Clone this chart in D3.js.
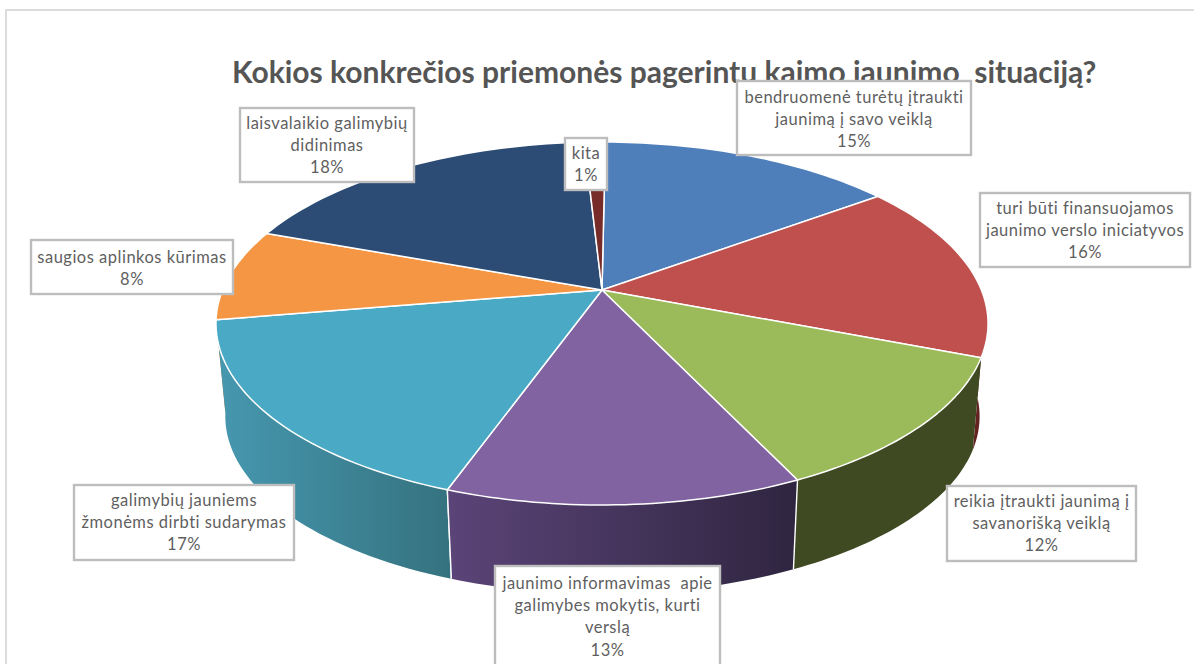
<!DOCTYPE html>
<html><head><meta charset="utf-8">
<script src="https://cdnjs.cloudflare.com/ajax/libs/d3/7.8.5/d3.min.js"></script>
<style>html,body{margin:0;padding:0;background:#fff;overflow:hidden}svg{display:block}text{font-family:Lato,"Open Sans",sans-serif;white-space:pre}</style>
</head><body>
<script>
const chartTitle = "Kokios konkrečios priemonės pagerintų kaimo jaunimo  situaciją?";
const categories = ["bendruomenė turėtų įtraukti jaunimą į savo veiklą","turi būti finansuojamos jaunimo verslo iniciatyvos","reikia įtraukti jaunimą į savanorišką veiklą","jaunimo informavimas apie galimybes mokytis, kurti verslą","galimybių jauniems žmonėms dirbti sudarymas","saugios aplinkos kūrimas","laisvalaikio galimybių didinimas","kita"];
const shares = [14.75,15.95,12.07,12.53,16.9,8.2,18.55,1.05];
const percentLabels = ["15%","16%","12%","13%","17%","8%","18%","1%"];
const labelLines = [
 ["bendruomenė turėtų įtraukti","jaunimą į savo veiklą"],
 ["turi būti finansuojamos","jaunimo verslo iniciatyvos"],
 ["reikia įtraukti jaunimą į","savanorišką veiklą"],
 ["jaunimo informavimas  apie","galimybes mokytis, kurti","verslą"],
 ["galimybių jauniems","žmonėms dirbti sudarymas"],
 ["saugios aplinkos kūrimas"],
 ["laisvalaikio galimybių","didinimas"],
 ["kita"]];
const topColors = ["#4f7fba","#bf504d","#9bba59","#8063a0","#4aa9c4","#f59645","#2c4c75","#772c2a"];

// layout (not data)
const W=1194,H=664;
const labelBoxes=[[736,80,236,76,97],[979,192,212,76,208],[946,485,191,77,501],[494,565,227,110,583],[73,484,222,77,500],[30,239,204,56,257],[239,107,176,76,123],[564,137,44,54,153]];
const lineStep=22.3;
const wallFill=[null,["#622220","#622220"],["#3f4a23","#3f4a23"],["#5b4478","#2f2540"],["#4698b0","#35727f"],["#b5702f","#b5702f"],null,null];

const svg=d3.select("body").append("svg").attr("width",W).attr("height",H);
svg.append("path").attr("d",`M1194,10H6V664`).attr("fill","none").attr("stroke","#dcdcdc").attr("stroke-width",2);
svg.append("text").attr("x",232).attr("y",83).attr("font-size",30).attr("font-weight",700).attr("fill","#555").text(chartTitle);

// perspective projection of the unit disc
const cx=602,cy=290,k=0.1846,Rx=379.4,Ry=175.3,depthScale=0.977,offX=14.3,offY=100.3;
function project(a,r,bottom){
  const u=Math.sin(a)*r,v=-Math.cos(a)*r,d=1-k*v;
  const x=cx+Rx*u/d,y=cy+Ry*v/d;
  return bottom?[offX+depthScale*x,offY+depthScale*y]:[x,y];
}
const start=0.6*Math.PI/180;
const arcs=d3.pie().sort(null).startAngle(start).endAngle(start+2*Math.PI)(shares);
const color=d3.scaleOrdinal().domain(d3.range(shares.length)).range(topColors);
const line=d3.line();
const samples=(s,e)=>d3.range(0,41).map(i=>s+(e-s)*i/40);

const defs=svg.append("defs");
const walls=arcs.map((a,i)=>({a,i,mid:(a.startAngle+a.endAngle)/2})).filter(d=>wallFill[d.i]).sort((p,q)=>-Math.cos(p.mid)-(-Math.cos(q.mid)));
walls.forEach(d=>{
  const top=samples(d.a.startAngle,d.a.endAngle).map(t=>project(t,1,false));
  const bot=samples(d.a.startAngle,d.a.endAngle).map(t=>project(t,1,true));
  const all=top.concat(bot);
  const g=defs.append("linearGradient").attr("id","w"+d.i).attr("gradientUnits","userSpaceOnUse")
    .attr("x1",d3.min(all,p=>p[0])).attr("x2",d3.max(all,p=>p[0])).attr("y1",0).attr("y2",0);
  g.append("stop").attr("offset",0).attr("stop-color",wallFill[d.i][0]);
  g.append("stop").attr("offset",1).attr("stop-color",wallFill[d.i][1]);
  svg.append("path").attr("d",line(top.concat(bot.reverse()))+"Z").attr("fill",`url(#w${d.i})`);
  svg.append("path").attr("d",line([project(d.a.startAngle,1,false),project(d.a.startAngle,1,true)])).attr("stroke",d.i==1||d.i==2||d.i==5?"none":"#fff").attr("stroke-width",1.4);
  svg.append("path").attr("d",line([project(d.a.endAngle,1,false),project(d.a.endAngle,1,true)])).attr("stroke",d.i==3?"#fff":"none").attr("stroke-width",1.4);
});
svg.selectAll("path.top").data(arcs).join("path").attr("class","top")
  .attr("d",d=>line([[cx,cy]].concat(samples(d.startAngle,d.endAngle).map(t=>project(t,1,false))))+"Z")
  .attr("fill",(d,i)=>color(i)).attr("stroke","#fff").attr("stroke-width",1.5).attr("stroke-linejoin","round");

arcs.forEach((a,i)=>{
  const [x,y,w,h,ty]=labelBoxes[i];
  svg.append("rect").attr("x",x+1).attr("y",y+1).attr("width",w-2).attr("height",h-2).attr("fill","#fff").attr("stroke","#bdbdbd").attr("stroke-width",2.4);
  const lines=labelLines[i].concat([percentLabels[i]]);
  lines.forEach((t,j)=>{
    svg.append("text").attr("x",x+w/2).attr("y",ty+j*lineStep).attr("dy","0.35em").attr("text-anchor","middle")
      .attr("font-size",16.5).attr("letter-spacing",0.5).attr("fill","#5f5f5f").text(t);
  });
});
</script>
</body></html>
